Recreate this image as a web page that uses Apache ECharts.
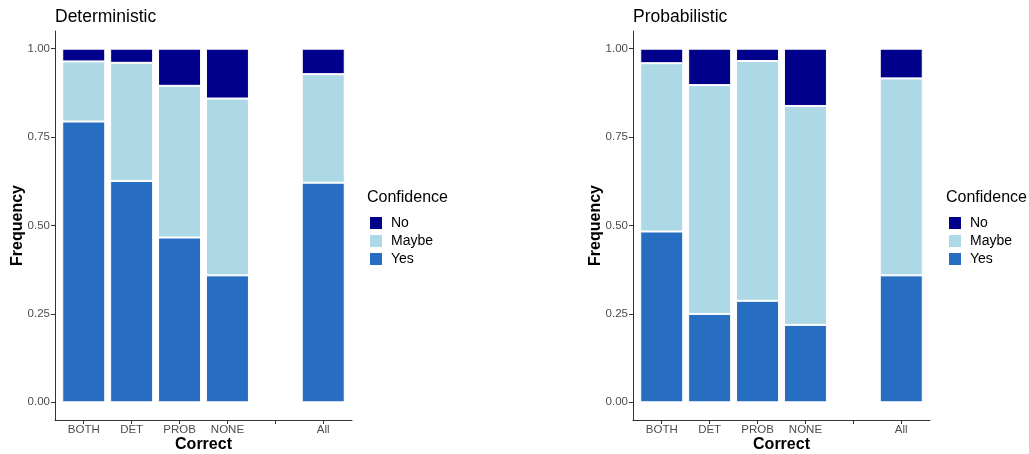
<!DOCTYPE html>
<html>
<head>
<meta charset="utf-8">
<script src="https://cdn.jsdelivr.net/npm/echarts@6/dist/echarts.min.js"></script>
<style>
  html, body { margin: 0; padding: 0; background: #fff; }
  #chart { width: 1029px; height: 454px; }
</style>
</head>
<body>
<div id="chart"></div>
<script>
// Categories of the "Correct" variable; the empty slot separates the overall bar.
const categories = ['BOTH', 'DET', 'PROB', 'NONE', '', 'All'];
const yTicks = [0, 0.25, 0.5, 0.75, 1];
const confidenceLevels = ['No', 'Maybe', 'Yes'];

// Deterministic panel: share of answers per confidence level
const detYes   = [0.794, 0.626, 0.466, 0.359, null, 0.621];
const detMaybe = [0.170, 0.334, 0.429, 0.500, null, 0.307];
const detNo    = [0.036, 0.040, 0.105, 0.141, null, 0.072];

// Probabilistic panel
const probYes   = [0.483, 0.250, 0.287, 0.219, null, 0.359];
const probMaybe = [0.476, 0.647, 0.678, 0.619, null, 0.557];
const probNo    = [0.041, 0.103, 0.035, 0.162, null, 0.084];

const colors = { Yes: '#276dc2', Maybe: '#add8e6', No: '#00008b' };
const FONT = '"Liberation Sans", Arial, Helvetica, sans-serif';

// Bars sit at positions 1..6 on a continuous x scale padded by 0.6 on each side.
const positions = categories.map((c, i) => i + 1);
// value first, position second, so the stacked dimension is the frequency
const toPoints = vals => positions
  .map((x, i) => [vals[i], x])
  .filter(p => p[0] !== null);

const panels = [
  { title: 'Deterministic', left: 55, yes: detYes, maybe: detMaybe, no: detNo, legendLeft: 368 },
  { title: 'Probabilistic', left: 633, yes: probYes, maybe: probMaybe, no: probNo, legendLeft: 947 }
];

const grids = [], xAxes = [], yAxes = [], series = [], titles = [], legends = [];

panels.forEach((p, k) => {
  grids.push({ left: p.left, top: 31, width: 297, height: 389, containLabel: false, outerBoundsMode: 'none' });
  xAxes.push({
    type: 'value', gridIndex: k, min: 0.4, max: 6.6,
    splitLine: { show: false },
    axisLine: { onZero: false, lineStyle: { color: '#333', width: 1 } },
    axisTick: { customValues: positions, length: 4, lineStyle: { color: '#333' } },
    axisLabel: {
      customValues: positions, margin: 4,
      formatter: v => categories[Math.round(v) - 1] || '',
      color: '#4d4d4d', fontSize: 11.5, fontFamily: FONT
    },
    name: 'Correct', nameLocation: 'middle', nameGap: 17, nameMoveOverlap: false,
    nameTextStyle: { fontSize: 16, fontWeight: 'bold', color: '#000', fontFamily: FONT }
  });
  yAxes.push({
    type: 'value', gridIndex: k, min: -0.05, max: 1.05,
    splitLine: { show: false },
    axisLine: { show: true, onZero: false, lineStyle: { color: '#333', width: 1 } },
    axisTick: { show: true, customValues: yTicks, length: 4, lineStyle: { color: '#333' } },
    axisLabel: {
      customValues: yTicks, margin: 5,
      formatter: v => v.toFixed(2),
      color: '#4d4d4d', fontSize: 11.5, fontFamily: FONT
    },
    name: 'Frequency', nameLocation: 'middle', nameGap: 29, nameMoveOverlap: false,
    nameTextStyle: { fontSize: 16, fontWeight: 'bold', color: '#000', fontFamily: FONT }
  });

  [['Yes', p.yes], ['Maybe', p.maybe], ['No', p.no]].forEach(([name, vals]) => {
    series.push({
      type: 'bar', name, stack: 'panel' + k,
      xAxisIndex: k, yAxisIndex: k,
      encode: { x: 1, y: 0 },
      barWidth: 43,
      data: toPoints(vals),
      itemStyle: { color: colors[name], borderColor: '#ffffff', borderWidth: 1 },
      emphasis: { disabled: true }
    });
  });

  titles.push({
    text: p.title, left: p.left, top: 8, padding: 0,
    textStyle: { fontSize: 17.5, fontWeight: 'normal', color: '#000', fontFamily: FONT }
  });
  titles.push({
    text: 'Confidence', left: p.legendLeft - 1, top: 190, padding: 0,
    textStyle: { fontSize: 16, fontWeight: 'normal', color: '#000', fontFamily: FONT }
  });
  legends.push({
    data: confidenceLevels, orient: 'vertical',
    left: p.legendLeft, top: 215, padding: 0,
    itemWidth: 14, itemHeight: 14, itemGap: 2, icon: 'rect',
    selectedMode: false,
    textStyle: { fontSize: 14, color: '#000', fontFamily: FONT, padding: [0, 0, 0, 3] }
  });
});

const chart = echarts.init(document.getElementById('chart'), null, { renderer: 'canvas' });
chart.setOption({
  animation: false,
  backgroundColor: '#fff',
  title: titles,
  legend: legends,
  grid: grids,
  xAxis: xAxes,
  yAxis: yAxes,
  series
});
</script>
</body>
</html>
